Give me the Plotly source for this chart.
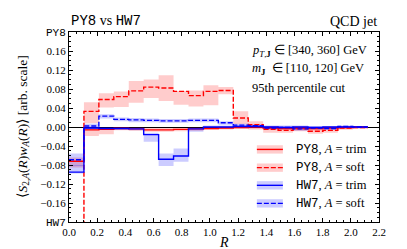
import plotly.graph_objects as go

# ---------------- data ----------------
edges = [0.0, 0.106, 0.212, 0.318, 0.424, 0.53, 0.636, 0.742, 0.848, 0.954, 1.06,
         1.166, 1.272, 1.378, 1.484, 1.59, 1.696, 1.802, 1.908, 2.014, 2.12]

py8_trim = [-0.072, -0.006, -0.005, -0.003, -0.004, -0.006, -0.006, -0.005, -0.004, -0.003,
            -0.002, -0.001, 0.000, -0.002, -0.003, -0.002, -0.003, -0.002, -0.001, 0.000]
py8_trim_lo = [-0.085, -0.019, -0.015, -0.007, -0.008, -0.010, -0.010, -0.009, -0.008, -0.006,
               -0.005, -0.004, -0.003, -0.005, -0.006, -0.005, -0.007, -0.005, -0.004, -0.002]
py8_trim_hi = [-0.064, -0.001, -0.002, 0.000, -0.001, -0.002, -0.002, -0.002, -0.001, 0.000,
               0.001, 0.002, 0.003, 0.001, 0.000, 0.001, 0.000, 0.001, 0.001, 0.002]

py8_soft = [-0.25, 0.033, 0.058, 0.064, 0.076, 0.084, 0.082, 0.075, 0.066, 0.075,
            0.077, 0.019, 0.005, -0.005, -0.007, -0.004, -0.009, -0.007, -0.002, -0.001]
py8_soft_lo = [-0.27, 0.008, 0.041, 0.042, 0.051, 0.061, 0.055, 0.047, 0.043, 0.046,
               0.069, 0.006, -0.005, -0.012, -0.012, -0.009, -0.014, -0.012, -0.006, -0.004]
py8_soft_hi = [-0.23, 0.052, 0.071, 0.075, 0.097, 0.100, 0.109, 0.076, 0.077, 0.088,
               0.084, 0.033, 0.012, 0.002, -0.002, 0.001, -0.004, -0.002, 0.002, 0.002]

hw7_trim = [-0.095, -0.002, -0.003, -0.003, -0.004, -0.016, -0.068, -0.061, -0.004, 0.000,
            0.000, 0.001, 0.001, 0.000, -0.001, 0.000, -0.001, 0.000, 0.000, 0.000]
hw7_trim_lo = [-0.098, -0.006, -0.006, -0.006, -0.007, -0.031, -0.082, -0.073, -0.010, -0.003,
               -0.003, -0.002, -0.002, -0.003, -0.004, -0.003, -0.004, -0.003, -0.002, -0.002]
hw7_trim_hi = [-0.080, 0.001, 0.000, 0.000, -0.001, -0.012, -0.056, -0.045, -0.001, 0.003,
               0.003, 0.004, 0.004, 0.003, 0.002, 0.003, 0.002, 0.002, 0.002, 0.002]

hw7_soft = [-0.069, 0.002, 0.023, 0.016, 0.015, 0.014, 0.013, 0.013, 0.014, 0.014,
            0.009, 0.004, 0.003, -0.002, -0.001, -0.004, -0.002, -0.003, 0.001, 0.000]
hw7_soft_lo = [-0.082, -0.004, 0.018, 0.012, 0.010, 0.010, 0.009, 0.009, 0.010, 0.010,
               0.005, 0.001, 0.000, -0.005, -0.005, -0.008, -0.005, -0.006, -0.002, -0.002]
hw7_soft_hi = [-0.056, 0.007, 0.027, 0.020, 0.019, 0.018, 0.017, 0.017, 0.018, 0.018,
               0.012, 0.007, 0.006, 0.001, 0.003, 0.000, 0.001, 0.000, 0.003, 0.002]

y_tickvals = [-0.2, -0.16, -0.12, -0.08, -0.04, 0.0, 0.04, 0.08, 0.12, 0.16, 0.2]
MONO = "Liberation Mono"
SERIF = "Liberation Serif"
y_ticktext = [f'<span style="font-family:{MONO}">HW7</span>', "−0.16", "−0.12", "−0.08", "−0.04",
              "0.00", "0.04", "0.08", "0.12", "0.16", f'<span style="font-family:{MONO}">PY8</span>']

RED = "#ff0000"
BLUE = "#0000ff"
RED_F = "rgba(255,0,0,0.2)"
BLUE_F = "rgba(0,0,255,0.2)"
DASH = "5px,2px"


def step(v):
    return list(v) + [v[-1]]


fig = go.Figure()

for lo, hi, fc in [(py8_trim_lo, py8_trim_hi, RED_F), (py8_soft_lo, py8_soft_hi, RED_F),
                   (hw7_trim_lo, hw7_trim_hi, BLUE_F), (hw7_soft_lo, hw7_soft_hi, BLUE_F)]:
    fig.add_trace(go.Scatter(x=edges, y=step(lo), mode="lines", line=dict(width=0, shape="hv"),
                             showlegend=False, hoverinfo="skip"))
    fig.add_trace(go.Scatter(x=edges, y=step(hi), mode="lines", line=dict(width=0, shape="hv"),
                             fill="tonexty", fillcolor=fc, showlegend=False, hoverinfo="skip"))

for vals, col, dash in [(py8_trim, RED, "solid"), (py8_soft, RED, DASH),
                        (hw7_trim, BLUE, "solid"), (hw7_soft, BLUE, DASH)]:
    fig.add_trace(go.Scatter(x=edges, y=step(vals), mode="lines",
                             line=dict(color=col, width=1.4, shape="hv", dash=dash),
                             showlegend=False))

axis_common = dict(showline=True, linecolor="black", linewidth=1, mirror="allticks",
                   ticks="inside", ticklen=4, tickwidth=0.8, tickcolor="black",
                   showgrid=False, tickfont=dict(family=SERIF, size=11, color="black"))

fig.update_xaxes(range=[0, 2.2], dtick=0.2, tick0=0, tickformat=".1f", zeroline=False,
                 minor=dict(dtick=0.05, ticks="inside", ticklen=2, tickwidth=0.6,
                            tickcolor="black", showgrid=False),
                 **axis_common)
fig.update_yaxes(range=[-0.2, 0.2], tickvals=y_tickvals, ticktext=y_ticktext,
                 zeroline=True, zerolinecolor="black", zerolinewidth=1,
                 minor=dict(dtick=0.01, tick0=0, ticks="inside", ticklen=2, tickwidth=0.6,
                            tickcolor="black", showgrid=False),
                 **axis_common)

ann = []
# titles
ann.append(dict(x=0, y=1.005, xref="paper", yref="paper", xanchor="left", yanchor="bottom",
                text=f'<span style="font-family:{MONO}">PY8</span> vs <span style="font-family:{MONO}">HW7</span>',
                showarrow=False, font=dict(family=SERIF, size=14, color="black")))
ann.append(dict(x=1, y=1.005, xref="paper", yref="paper", xanchor="right", yanchor="bottom",
                text="QCD jet", showarrow=False, font=dict(family=SERIF, size=14, color="black")))
# axis titles
ann.append(dict(x=0.5, y=-0.11, xref="paper", yref="paper", xanchor="center", yanchor="middle",
                text="<i>R</i>", showarrow=False, font=dict(family=SERIF, size=14, color="black")))
ann.append(dict(x=-0.15, y=0.5, xref="paper", yref="paper", xanchor="center", yanchor="middle",
                textangle=-90,
                text="⟨<i>S</i><sub>2,<i>A</i></sub>(<i>R</i>)<i>w</i><sub><i>A</i></sub>(<i>R</i>)⟩ [arb. scale]",
                showarrow=False, font=dict(family=SERIF, size=13.5, color="black")))
# info text
info = ["<i>p</i><sub><i>T</i>,<b>J</b></sub> ∈ [340, 360] GeV",
        "<i>m</i><sub><b>J</b></sub>  ∈ [110, 120] GeV",
        "95th percentile cut"]
for t, yy in zip(info, [0.902, 0.807, 0.707]):
    ann.append(dict(x=0.583, y=yy, xref="paper", yref="paper", xanchor="left", yanchor="middle",
                    text=t, showarrow=False, font=dict(family=SERIF, size=12.5, color="black")))

# manual legend
leg_items = [("PY8", "trim", RED, RED_F, "solid"), ("PY8", "soft", RED, RED_F, "dash"),
             ("HW7", "trim", BLUE, BLUE_F, "solid"), ("HW7", "soft", BLUE, BLUE_F, "dash")]
leg_y = [0.382, 0.286, 0.193, 0.098]
shapes = []
x0, x1 = 0.606, 0.690
for (gen, lab, lc, fc, ds), yy in zip(leg_items, leg_y):
    shapes.append(dict(type="rect", xref="paper", yref="paper", x0=x0, x1=x1,
                       y0=yy - 0.022, y1=yy + 0.022, fillcolor=fc, line=dict(width=0), layer="above"))
    shapes.append(dict(type="line", xref="paper", yref="paper", x0=x0, x1=x1, y0=yy, y1=yy,
                       line=dict(color=lc, width=1.4, dash=DASH if ds == "dash" else "solid"), layer="above"))
    ann.append(dict(x=0.725, y=yy, xref="paper", yref="paper", xanchor="left", yanchor="middle",
                    text=f'<span style="font-family:{MONO}">{gen}</span>, <i>A</i> = {lab}',
                    showarrow=False, font=dict(family=SERIF, size=12.5, color="black")))

fig.update_layout(width=407, height=249, margin=dict(l=61, r=36, t=24, b=35),
                  paper_bgcolor="white", plot_bgcolor="white", showlegend=False,
                  annotations=ann, shapes=shapes)

fig.write_html("out.html")
